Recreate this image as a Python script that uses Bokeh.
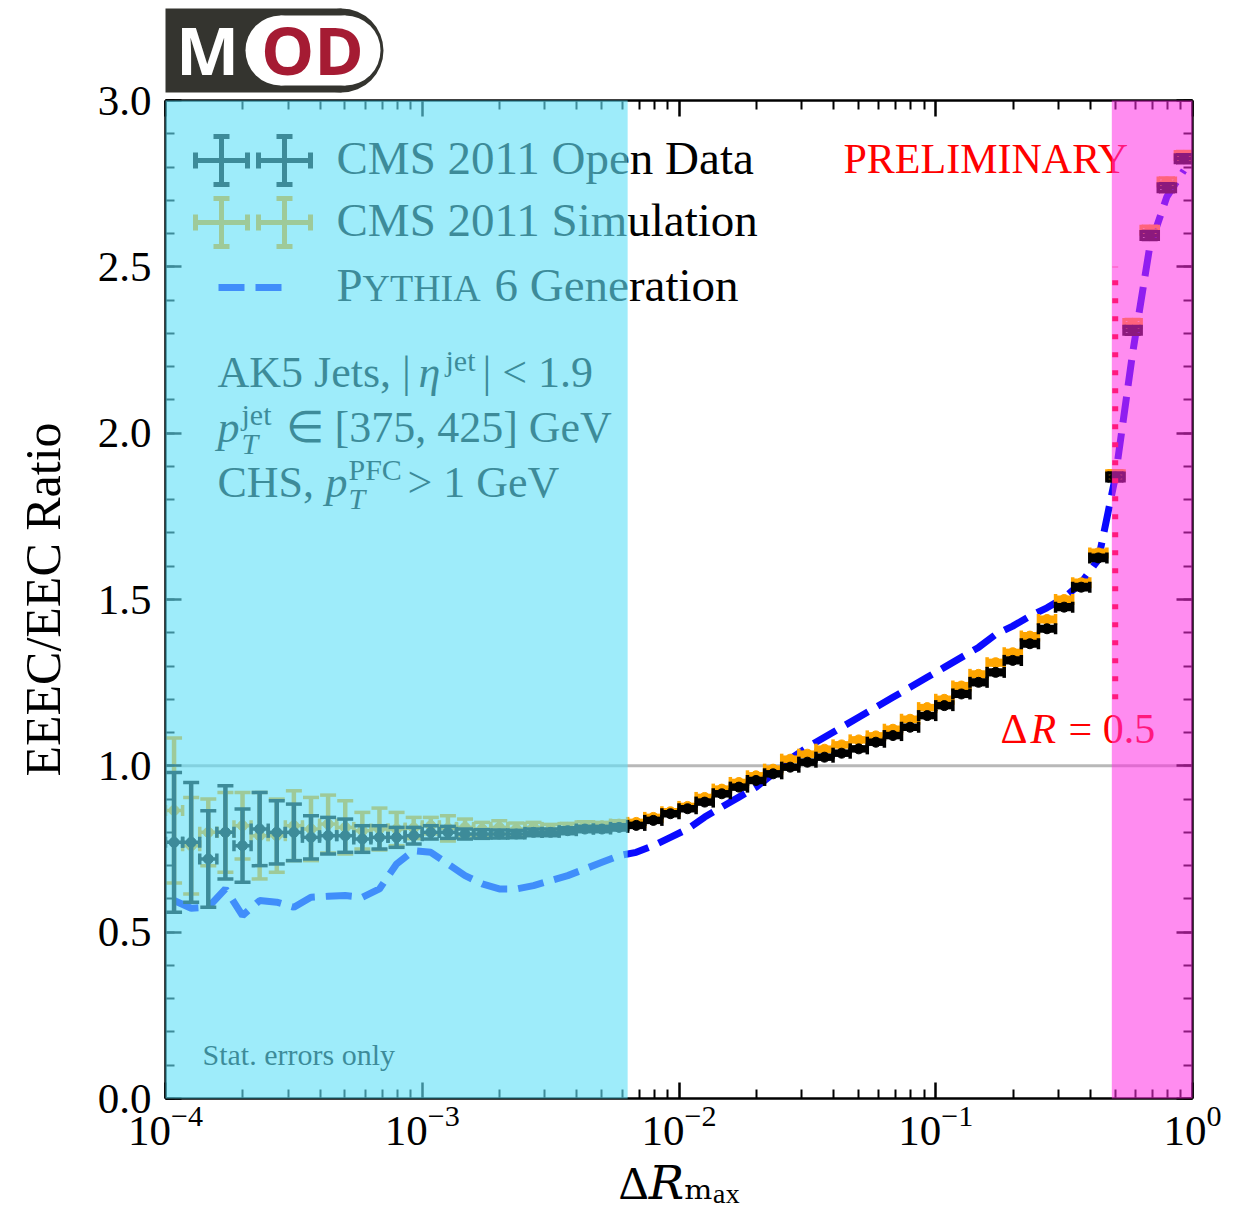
import numpy as np
from bokeh.plotting import figure
from bokeh.layouts import column
from bokeh.models import (Range1d, LinearAxis, FixedTicker, NumeralTickFormatter,
                          LogTickFormatter, BoxAnnotation, Span, ColumnDataSource)
from bokeh.core.properties import value
from bokeh.embed import file_html
from bokeh.resources import INLINE

# ---- binning: 15 logarithmic bins per decade over [1e-4, 1] ----
bin_edges = np.logspace(-4, 0, 61)
bin_lo = bin_edges[:-1]
bin_hi = bin_edges[1:]
bin_mid = np.sqrt(bin_lo * bin_hi)

# ---- EEEC/EEC ratio per bin ----
open_data_ratio = [
    0.77, 0.77, 0.72, 0.80, 0.76, 0.81, 0.80, 0.80, 0.785, 0.79, 0.79, 0.78, 0.785, 0.785,
    0.79, 0.80, 0.80, 0.795, 0.795, 0.795, 0.795, 0.80, 0.80, 0.805, 0.81, 0.81, 0.815,
    0.821, 0.836, 0.856, 0.871, 0.891, 0.916, 0.936, 0.956, 0.976, 0.996, 1.011, 1.026,
    1.038, 1.051, 1.071, 1.091, 1.116, 1.151, 1.181, 1.216, 1.251, 1.281, 1.317, 1.367,
    1.412, 1.477, 1.537, 1.625, 1.868, 2.309, 2.594, 2.738, 2.825]
open_data_err = [
    0.21, 0.18, 0.145, 0.14, 0.11, 0.11, 0.095, 0.085, 0.065, 0.055, 0.05, 0.04, 0.035, 0.03,
    0.025, 0.02, 0.018, 0.015, 0.013, 0.012, 0.011, 0.01, 0.01, 0.009, 0.008, 0.008, 0.008,
    0.006, 0.006, 0.006, 0.006, 0.006, 0.006, 0.006, 0.006, 0.006, 0.006, 0.006, 0.006,
    0.006, 0.006, 0.006, 0.006, 0.006, 0.006, 0.006, 0.007, 0.007, 0.007, 0.007, 0.007,
    0.007, 0.007, 0.008, 0.008, 0.012, 0.012, 0.012, 0.012, 0.012]
simulation_ratio = [
    0.866, 0.76, 0.80, 0.80, 0.82, 0.79, 0.79, 0.82, 0.81, 0.825, 0.815, 0.805, 0.81, 0.81,
    0.813, 0.82, 0.812, 0.815, 0.81, 0.815, 0.81, 0.815, 0.81, 0.815, 0.82, 0.82, 0.825,
    0.83, 0.845, 0.862, 0.878, 0.905, 0.93, 0.95, 0.97, 0.99, 1.02, 1.035, 1.05,
    1.063, 1.078, 1.09, 1.11, 1.14, 1.175, 1.20, 1.24, 1.275, 1.31, 1.34, 1.39,
    1.44, 1.50, 1.55, 1.64, 1.875, 2.33, 2.61, 2.755, 2.835]
simulation_err = [
    0.218, 0.145, 0.10, 0.12, 0.10, 0.13, 0.11, 0.105, 0.095, 0.087, 0.08, 0.055, 0.063, 0.05,
    0.032, 0.025, 0.038, 0.025, 0.02, 0.02, 0.018, 0.015, 0.014, 0.012, 0.012, 0.01, 0.01,
    0.006, 0.006, 0.006, 0.006, 0.006, 0.006, 0.006, 0.006, 0.006, 0.006, 0.006, 0.006,
    0.006, 0.006, 0.006, 0.006, 0.006, 0.006, 0.006, 0.007, 0.007, 0.007, 0.007, 0.007,
    0.007, 0.007, 0.008, 0.008, 0.012, 0.012, 0.012, 0.012, 0.012]
pythia_ratio = [
    0.595, 0.572, 0.575, 0.63, 0.55, 0.595, 0.59, 0.575, 0.605, 0.608, 0.61, 0.605, 0.63,
    0.705, 0.745, 0.74, 0.705, 0.67, 0.645, 0.63, 0.63, 0.64, 0.655, 0.67, 0.69, 0.71, 0.73,
    0.74, 0.76, 0.785, 0.81, 0.846, 0.876, 0.906, 0.936, 0.976, 1.021, 1.056, 1.086, 1.116,
    1.146, 1.176, 1.206, 1.236, 1.266, 1.296, 1.326, 1.356, 1.395, 1.42, 1.45, 1.475, 1.505,
    1.55, 1.62, 1.87, 2.24, 2.56, 2.71, 2.79]

# shaded regions and reference markers
low_region = (1e-4, 6.31e-3)
high_region = (0.485, 1.0)
cone_radius = 0.5
cone_line_span = (1.2, 2.5)

x_major = [1e-4, 1e-3, 1e-2, 1e-1, 1.0]
x_minor = [m * 10.0 ** d for d in range(-4, 0) for m in range(2, 10)]
y_major = [0.0, 0.5, 1.0, 1.5, 2.0, 2.5, 3.0]
y_minor = [round(0.1 * k, 1) for k in range(31)]

SERIF = "Liberation Serif"
W = 1249
LOGO_H = 96
OVERLAP = 30                     # main canvas slides up under the logo strip
MAIN_H = 1213 - LOGO_H + OVERLAP
BASELINE_SHIFT = 0.4  # text boxes sit ~0.4 em below the requested alphabetic baseline

# frame geometry (page pixels) used to place annotations
FX0, FX1, FY0, FY1 = 165, 1192, 1098, 100


def px_x(px):
    return 10 ** (-4 + 4 * (px - FX0) / (FX1 - FX0))


def px_y(py):
    return 3.0 * (FY0 - py) / (FY0 - FY1)


# ---------------- logo (frame aligned with the plot frame; units = page pixels) ----------------
logo = figure(width=W, height=LOGO_H, x_range=Range1d(FX0, FX1), y_range=Range1d(LOGO_H, 0),
              toolbar_location=None, output_backend="svg", min_border=0,
              min_border_left=FX0, min_border_right=W - FX1,
              x_axis_location=None, y_axis_location=None)
logo.outline_line_color = None
logo.xgrid.visible = False
logo.ygrid.visible = False
dark = "#34342f"
logo.quad(left=[163], right=[341], top=[8], bottom=[92], fill_color=dark, line_color=None)
logo.circle(x=[341], y=[50], radius=42, fill_color=dark, line_color=None)
logo.quad(left=[280], right=[345], top=[15], bottom=[85], fill_color="white", line_color=None)
logo.circle(x=[280, 345], y=[50, 50], radius=35, fill_color="white", line_color=None)
for letters, cx, col in (("M", 207, "white"), ("OD", 312, "#a51b33")):
    logo.text(x=[cx], y=[75 - BASELINE_SHIFT * 67], text=[letters], text_font=value("Open Sans"),
              text_font_style=value("bold"), text_font_size=value("67px"), text_color=col,
              text_align=value("center"), text_baseline=value("alphabetic"))

# ---------------- main plot ----------------
p = figure(width=W, height=MAIN_H, x_axis_type="log",
           x_range=Range1d(1e-4, 1.0), y_range=Range1d(0, 3),
           toolbar_location=None, output_backend="svg",
           min_border_left=FX0, min_border_right=W - FX1, min_border_top=4 + OVERLAP,
           min_border_bottom=115)
p.margin = (-OVERLAP, 0, 0, 0)
p.outline_line_color = None
p.xgrid.visible = False
p.ygrid.visible = False
p.background_fill_color = "white"
p.border_fill_alpha = 0


def style_axis(ax, labels=True, standoff=12):
    ax.axis_line_width = 2.5
    ax.axis_line_color = "black"
    ax.major_tick_in = 16
    ax.major_tick_out = 0
    ax.minor_tick_in = 9
    ax.minor_tick_out = 0
    ax.major_tick_line_width = 2.5
    ax.minor_tick_line_width = 2
    ax.major_tick_line_color = "black"
    ax.minor_tick_line_color = "black"
    if labels:
        ax.major_label_text_font = SERIF
        ax.major_label_text_font_size = "43px"
        ax.major_label_text_color = "black"
        ax.major_label_standoff = standoff
    else:
        ax.major_label_text_font_size = "1px"
        ax.major_label_text_alpha = 0
        ax.major_label_standoff = 0


p.xaxis.ticker = FixedTicker(ticks=x_major, minor_ticks=x_minor)
p.xaxis.formatter = LogTickFormatter()
style_axis(p.xaxis[0], True, 8)
p.xaxis.axis_label = "Δ𝑅ₘₐₓ"
p.xaxis.axis_label_text_font = "Liberation Serif, DejaVu Serif"
p.xaxis.axis_label_text_font_size = "47px"
p.xaxis.axis_label_text_font_style = "normal"
p.xaxis.axis_label_text_color = "black"
p.xaxis.axis_label_standoff = 9

p.yaxis.ticker = FixedTicker(ticks=y_major, minor_ticks=y_minor)
p.yaxis.formatter = NumeralTickFormatter(format="0.0")
style_axis(p.yaxis[0], True, 14)
p.yaxis.major_label_text_baseline = "alphabetic"
p.yaxis.axis_label = "EEEC/EEC Ratio"
p.yaxis.axis_label_text_font = SERIF
p.yaxis.axis_label_text_font_size = "50px"
p.yaxis.axis_label_text_font_style = "normal"
p.yaxis.axis_label_text_color = "black"
p.yaxis.axis_label_standoff = 24

top_axis = LinearAxis(ticker=FixedTicker(ticks=x_major, minor_ticks=x_minor))
style_axis(top_axis, False)
p.add_layout(top_axis, "above")
right_axis = LinearAxis(ticker=FixedTicker(ticks=y_major, minor_ticks=y_minor))
style_axis(right_axis, False)
p.add_layout(right_axis, "right")

# unity reference
p.add_layout(Span(location=1.0, dimension="width", line_color="#b8b8b8", line_width=3,
                  level="underlay"))

# Pythia curve
p.line(bin_mid, pythia_ratio, line_color="#0a0aff", line_width=7, line_dash="26 11")


def draw_points(ratio, err, color, lw=3.5, cap_w=16, cap_h=11, msize=10):
    ratio = np.asarray(ratio)
    err = np.asarray(err)
    src = ColumnDataSource(dict(lo=bin_lo, hi=bin_hi, mid=bin_mid, y=ratio,
                                ylo=ratio - err, yhi=ratio + err))
    p.segment(x0="lo", y0="y", x1="hi", y1="y", source=src, line_color=color, line_width=lw)
    p.segment(x0="mid", y0="ylo", x1="mid", y1="yhi", source=src, line_color=color,
              line_width=lw + 1)
    for col in ("ylo", "yhi"):
        p.scatter(x="mid", y=col, source=src, marker="dash", size=cap_w,
                  line_color=color, line_width=lw)
    for col in ("lo", "hi"):
        p.scatter(x=col, y="y", source=src, marker="dash", angle=np.pi / 2, size=cap_h,
                  line_color=color, line_width=lw)
    p.scatter(x="mid", y="y", source=src, marker="circle", size=msize,
              fill_color=color, line_color=color)


draw_points(simulation_ratio, simulation_err, "#ffa500")
draw_points(open_data_ratio, open_data_err, "black")

# DeltaR = 0.5 marker line
p.line([cone_radius, cone_radius], list(cone_line_span), line_color="red", line_width=6,
       line_dash="5 13")


def put_text(px, py, s, size, color="black", style="normal", align="left", font=SERIF):
    p.text(x=[px_x(px)], y=[px_y(py - BASELINE_SHIFT * size)], text=[s], text_font=value(font),
           text_font_size=value(f"{size}px"), text_font_style=value(style),
           text_color=color, text_align=value(align), text_baseline=value("alphabetic"))


# legend
def legend_cross(cx_list, cy, color):
    for cx in cx_list:
        xl, xr = px_x(cx - 26), px_x(cx + 26)
        yb, yt = px_y(cy + 24), px_y(cy - 24)
        xc, yc = px_x(cx), px_y(cy)
        p.segment(x0=[xl], y0=[yc], x1=[xr], y1=[yc], line_color=color, line_width=5)
        p.segment(x0=[xc], y0=[yb], x1=[xc], y1=[yt], line_color=color, line_width=5)
        p.scatter(x=[xc, xc], y=[yb, yt], marker="dash", size=16, line_color=color, line_width=5)
        p.scatter(x=[xl, xr], y=[yc, yc], marker="dash", angle=np.pi / 2, size=16,
                  line_color=color, line_width=5)


legend_cross([221, 284], 160, "black")
legend_cross([221, 284], 222, "#ffa500")
p.line([px_x(218), px_x(282)], [px_y(287), px_y(287)], line_color="#0a0aff", line_width=7,
       line_dash="26 11")

put_text(336, 176, "CMS 2011 Open Data", 47)
put_text(336, 238, "CMS 2011 Simulation", 47)
put_text(336, 303, "P", 47)
put_text(362, 303, "YTHIA", 38)
put_text(494, 303, "6 Generation", 47)

# selection text
put_text(217, 390, "AK5 Jets, |", 44)
put_text(418, 390, "η", 44, style="italic")
put_text(445, 372, "jet", 30)
put_text(482, 390, "| < 1.9", 44)

put_text(217, 445, "p", 44, style="italic")
put_text(241, 426, "jet", 30)
put_text(241, 455, "T", 30, style="italic")
put_text(285, 445, "∈ [375, 425] GeV", 44)

put_text(217, 500, "CHS,", 44)
put_text(325, 500, "p", 44, style="italic")
put_text(348, 481, "PFC", 30)
put_text(348, 510, "T", 30, style="italic")
put_text(407, 500, "> 1 GeV", 44)

put_text(202, 1066, "Stat. errors only", 30)

put_text(843, 175, "PRELIMINARY", 42, color="red")
put_text(1000, 745, "Δ", 42, color="red")
put_text(1030, 745, "R", 42, color="red", style="italic")
put_text(1068, 745, "= 0.5", 42, color="red")

# shaded regions on top
p.add_layout(BoxAnnotation(left=px_x(163), right=low_region[1], bottom=px_y(1105), top=px_y(95),
                           fill_color="#62e0f7", fill_alpha=0.62, line_color=None))
p.add_layout(BoxAnnotation(left=high_region[0], right=px_x(1194), bottom=px_y(1106), top=px_y(95),
                           fill_color="#ff2de3", fill_alpha=0.55, line_color=None))

layout = column(logo, p)
open("out.html", "w").write(file_html(layout, INLINE))
